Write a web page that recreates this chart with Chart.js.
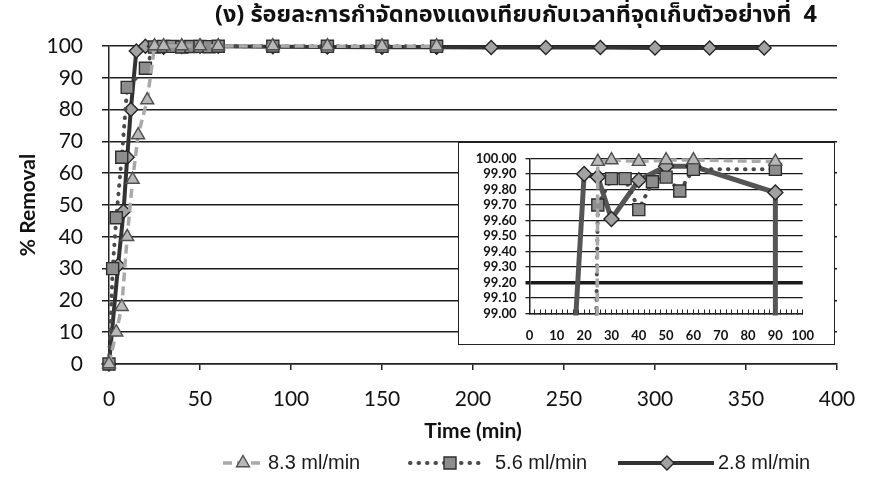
<!DOCTYPE html>
<html>
<head>
<meta charset="utf-8">
<script src="https://cdn.jsdelivr.net/npm/chart.js@4.4.1/dist/chart.umd.min.js"></script>
<style>
  html, body { margin: 0; padding: 0; background: #fff; }
  #wrap { position: relative; width: 876px; height: 480px; overflow: hidden; }
  #main { position: absolute; left: 0; top: 0; }
  #insetBox { position: absolute; left: 458px; top: 142px; width: 375px; height: 201px;
              border: 1.5px solid #222; background: #fff; }
  #inset { position: absolute; left: 0; top: 0; }
</style>
</head>
<body>
<div id="wrap">
  <canvas id="main" width="876" height="480"></canvas>
  <div id="insetBox"><canvas id="inset" width="375" height="201"></canvas></div>
</div>
<script>
// ---- chart text ----
const chartTitle = '(ง) ร้อยละการกำจัดทองแดงเทียบกับเวลาที่จุดเก็บตัวอย่างที่  4';
const xTitle = 'Time (min)';
const yTitle = '% Removal';
const seriesNames = ['8.3 ml/min', '5.6 ml/min', '2.8 ml/min'];

// ---- main chart: sampling time (min) and copper removal (%) ----
const time83 = [0, 4, 7, 10, 13, 16, 21, 25, 30, 40, 50, 60, 90, 120, 150, 180];
const removal83 = [0, 10, 18, 40, 58, 72, 83, 99.98, 99.99, 99.98, 99.99, 99.99, 99.98, 99.95, 99.95, 99.95];

const time56 = [0, 2, 4, 7, 10, 20, 25, 30, 35, 40, 45, 50, 55, 60, 90, 120, 150, 180];
const removal56 = [0, 30, 46, 65, 87, 93, 99.70, 99.87, 99.87, 99.67, 99.85, 99.88, 99.79, 99.93, 99.93, 99.90, 99.90, 99.90];

const time28 = [0, 5, 8, 10, 12, 15, 20, 25, 30, 40, 50, 60, 90, 120, 150, 180, 210, 240, 270, 300, 330, 360];
const removal28 = [0, 31, 48, 65, 80, 98.4, 99.90, 99.88, 99.61, 99.86, 99.95, 99.95, 99.78, 99.70, 99.60, 99.60, 99.50, 99.50, 99.50, 99.40, 99.40, 99.40];

// ---- inset (first 100 min, 99-100 %) ----
const insetTime83 = [21, 25, 30, 40, 50, 60, 90];
const insetRemoval83 = [83, 99.98, 99.99, 99.98, 99.99, 99.99, 99.98];
const insetTime56 = [20, 25, 30, 35, 40, 45, 50, 55, 60, 90];
const insetRemoval56 = [93, 99.70, 99.87, 99.87, 99.67, 99.85, 99.88, 99.79, 99.93, 99.93];
const insetTime28 = [15, 20, 25, 30, 40, 50, 60, 90, 90];
const insetRemoval28 = [98.4, 99.90, 99.88, 99.61, 99.86, 99.95, 99.95, 99.78, 98.8];

// ---- axis ranges / ticks ----
const mainXRange = [0, 400], mainXStep = 50;
const mainYRange = [0, 100], mainYStep = 10;
const insetXRange = [0, 100], insetXStep = 10, insetXMinor = 2;
const insetYRange = [99, 100], insetYStep = 0.1;

const pts = (ts, vs) => ts.map((t, i) => ({ x: t, y: vs[i] }));

const tickFont = { family: 'Lato, "Open Sans", sans-serif', size: 21 };
const titleFont = { family: 'Lato, "Open Sans", sans-serif', size: 21, weight: 'bold' };
const insetFont = { family: 'Lato, "Open Sans", sans-serif', size: 13, weight: 'bold', lineHeight: 1 };

const styles = [
  { pointStyle: 'triangle', line: '#a9a9a9', width: 3.5, dash: [9, 5], cap: 'butt',
    fill: '#b8b8b8', edge: '#505050', r: 7.5 },
  { pointStyle: 'rect', line: '#4a4a4a', width: 4, dash: [0.5, 8], cap: 'round',
    fill: '#8d8d8d', edge: '#2e2e2e', r: 8.5 },
  { pointStyle: 'rectRot', line: '#333333', width: 4, dash: [], cap: 'butt',
    fill: '#a2a2a2', edge: '#262626', r: 7 }
];

function makeDataset(i, data, extra) {
  const s = styles[i];
  return Object.assign({
    label: seriesNames[i], data,
    borderColor: s.line, borderWidth: s.width, borderDash: s.dash, borderCapStyle: s.cap,
    pointStyle: s.pointStyle, pointRadius: s.r, pointBackgroundColor: s.fill,
    pointBorderColor: s.edge, pointBorderWidth: 1.4, tension: 0, fill: false
  }, extra || {});
}

// marker used by the legend
function drawMarker(ctx, style, x, y, r) {
  ctx.beginPath();
  if (style === 'triangle') {
    for (let k = 0; k < 3; k++) {
      const a = k * 2 * Math.PI / 3;
      const px = x + Math.sin(a) * r, py = y - Math.cos(a) * r;
      k ? ctx.lineTo(px, py) : ctx.moveTo(px, py);
    }
    ctx.closePath();
  } else if (style === 'rect') {
    const h = r * Math.SQRT1_2;
    ctx.rect(x - h, y - h, 2 * h, 2 * h);
  } else {
    ctx.moveTo(x, y - r); ctx.lineTo(x + r, y); ctx.lineTo(x, y + r); ctx.lineTo(x - r, y);
    ctx.closePath();
  }
  ctx.fill(); ctx.stroke();
}

// heading and legend for the main chart
const headerLegend = {
  id: 'headerLegend',
  afterDraw(chart) {
    const ctx = chart.ctx;
    ctx.save();
    ctx.fillStyle = '#111';
    ctx.textAlign = 'center';
    ctx.textBaseline = 'middle';
    ctx.font = 'bold 23.5px "Noto Sans Thai", "Noto Sans Thai UI", Loma, Garuda, Waree, "DejaVu Sans", sans-serif';
    ctx.fillText(chartTitle, 516, 17);

    const items = [
      { x0: 223, x1: 262, mx: 243, tx: 268 },
      { x0: 410, x1: 482, mx: 450, tx: 495 },
      { x0: 618, x1: 714, mx: 667, tx: 718 }
    ];
    const ly = 463;
    items.forEach((it, i) => {
      const s = styles[i];
      ctx.save();
      ctx.strokeStyle = s.line; ctx.lineWidth = s.width;
      ctx.setLineDash(s.dash); ctx.lineCap = s.cap;
      ctx.beginPath(); ctx.moveTo(it.x0, ly); ctx.lineTo(it.x1, ly); ctx.stroke();
      ctx.setLineDash([]);
      ctx.fillStyle = s.fill; ctx.strokeStyle = s.edge; ctx.lineWidth = 1.4;
      drawMarker(ctx, s.pointStyle, it.mx, ly, s.r);
      ctx.restore();
      ctx.fillStyle = '#1a1a1a';
      ctx.textAlign = 'left';
      ctx.font = '20px "Liberation Sans", Arial, sans-serif';
      ctx.fillText(seriesNames[i], it.tx, ly);
    });
    ctx.restore();
  }
};

new Chart(document.getElementById('main'), {
  type: 'line',
  data: {
    datasets: [
      makeDataset(0, pts(time83, removal83), { clip: false }),
      makeDataset(1, pts(time56, removal56), { clip: false }),
      makeDataset(2, pts(time28, removal28), { clip: false })
    ]
  },
  options: {
    responsive: false, animation: false, devicePixelRatio: 1,
    layout: { padding: { top: 46, right: 39, left: 0, bottom: 0 } },
    plugins: { legend: { display: false }, title: { display: false }, tooltip: { enabled: false } },
    scales: {
      x: {
        type: 'linear', min: mainXRange[0], max: mainXRange[1],
        afterFit(s) { s.height = 116; },
        ticks: { stepSize: mainXStep, font: tickFont, color: '#111', padding: 17, maxRotation: 0 },
        grid: { drawOnChartArea: false, color: '#222', lineWidth: 1.5, tickLength: 6 },
        border: { color: '#222', width: 1.5 },
        title: { display: true, text: xTitle, font: titleFont, color: '#111', padding: { top: 0, bottom: 36 } }
      },
      y: {
        min: mainYRange[0], max: mainYRange[1],
        afterFit(s) { s.width = 109; },
        ticks: { stepSize: mainYStep, font: tickFont, color: '#111', padding: 19 },
        grid: { color: '#1e1e1e', lineWidth: 1.5, tickLength: 7 },
        border: { color: '#222', width: 1.5 },
        title: { display: true, text: yTitle, font: titleFont, color: '#111', padding: { top: 16, bottom: 0 } }
      }
    }
  },
  plugins: [headerLegend]
});

const insetClip = { left: 0, right: 0, top: 12, bottom: 2 };
const hideBelow = (r) => (c) => (c.raw && c.raw.y < insetYRange[0] ? 0 : r);

new Chart(document.getElementById('inset'), {
  type: 'line',
  data: {
    datasets: [
      makeDataset(0, pts(insetTime83, insetRemoval83), { clip: insetClip, pointRadius: hideBelow(7.5) }),
      makeDataset(1, pts(insetTime56, insetRemoval56), { clip: insetClip, pointRadius: hideBelow(8.5) }),
      makeDataset(2, pts(insetTime28, insetRemoval28), { clip: insetClip, pointRadius: hideBelow(7.5),
        borderColor: '#555', borderWidth: 5 })
    ]
  },
  options: {
    responsive: false, animation: false, devicePixelRatio: 1,
    layout: { padding: { top: 6, right: 21.5, left: 0, bottom: 0 } },
    plugins: { legend: { display: false }, title: { display: false }, tooltip: { enabled: false } },
    scales: {
      x: {
        type: 'linear', min: insetXRange[0], max: insetXRange[1],
        afterFit(s) { s.height = 30.5; },
        ticks: { stepSize: insetXMinor, autoSkip: false, maxRotation: 0, font: insetFont, color: '#111', padding: 20,
                 callback: (v) => (v % insetXStep === 0 ? String(v) : '') },
        grid: { drawOnChartArea: false, color: '#222', lineWidth: 1, tickLength: -4 },
        border: { color: '#222', width: 1.5 }
      },
      y: {
        min: insetYRange[0], max: insetYRange[1],
        afterFit(s) { s.width = 70.5; },
        ticks: { stepSize: insetYStep, autoSkip: false, font: insetFont, color: '#111', padding: 9,
                 callback: (v) => Number(v).toFixed(2) },
        grid: { color: '#1a1a1a', tickLength: 4,
                lineWidth: (c) => (c.tick && Math.abs(c.tick.value - 99.2) < 1e-6 ? 3.5 : 1.3) },
        border: { color: '#222', width: 1.5 }
      }
    }
  }
});
</script>
</body>
</html>
